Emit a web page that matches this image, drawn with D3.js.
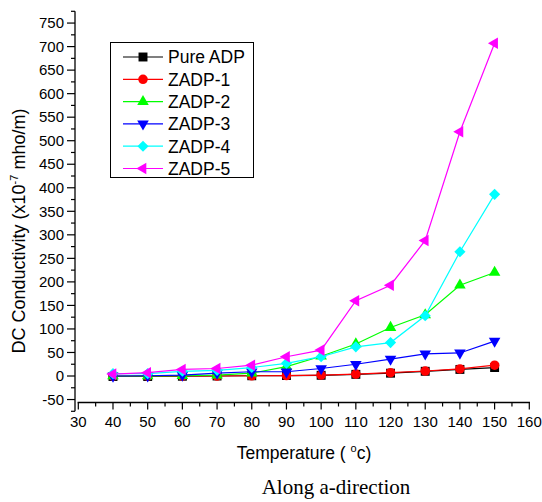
<!DOCTYPE html>
<html>
<head>
<meta charset="utf-8">
<script src="https://cdn.jsdelivr.net/npm/d3@7"></script>
<style>
  body { margin: 0; background: #fff; }
  svg { display: block; }
  text { font-family: Arial, "Liberation Sans", sans-serif; fill: #000; }
</style>
</head>
<body>
<svg id="chart"></svg>
<script>
const temps = [40, 50, 60, 70, 80, 90, 100, 110, 120, 130, 140, 150];

const pureADP = [-1, -1, -0.5, 0, 0.5, 1, 1.5, 3.5, 6, 10, 14, 18];
const zadp1 = [0, 0, 0, 0, 0.5, 1, 2, 4, 7, 10.6, 15, 23];
const zadp2 = [0, 0, 1, 2, 6, 20, 42, 68, 103, 130, 193, 220];
const zadp3 = [0, 0.5, 2, 6, 9, 9, 16, 25, 36, 47, 49, 74];
const zadp4 = [5, 5, 10, 12, 18, 27, 41, 62, 71, 128, 264, 386];
const zadp5 = [4, 7, 14, 16, 23, 41, 55, 160, 193, 288, 519, 707];

const seriesNames = ['Pure ADP', 'ZADP-1', 'ZADP-2', 'ZADP-3', 'ZADP-4', 'ZADP-5'];
const seriesColors = ['#000000', '#ff0000', '#00ff00', '#0000ff', '#00ffff', '#ff00ff'];

const xTicks = d3.range(30, 161, 10);
const yTicks = d3.range(-50, 751, 50);

const width = 542;
const height = 502;

const svg = d3.select('#chart')
  .attr('width', width)
  .attr('height', height);

const x = d3.scaleLinear().domain([30, 160]).range([78.3, 529.3]);
const y = d3.scaleLinear().domain([-75, 775]).range([411.3, 11.3]);

const axisY = 402.5;
const axisX = x(30) - 3.3;

// marker shapes: square, circle, up, down, diamond, left
const markers = [
  { type: d3.symbolSquare, size: 80, rot: 0 },
  { type: d3.symbolCircle, size: 72, rot: 0 },
  { type: d3.symbolTriangle, size: 58, rot: 0 },
  { type: d3.symbolTriangle, size: 58, rot: 180 },
  { type: d3.symbolSquare, size: 62, rot: 45 },
  { type: d3.symbolTriangle, size: 58, rot: -90 }
];

const allSeries = [pureADP, zadp1, zadp2, zadp3, zadp4, zadp5].map((vals, i) => ({
  name: seriesNames[i],
  color: seriesColors[i],
  marker: markers[i],
  values: vals.map((v, j) => ({ t: temps[j], v: v }))
}));

// y axis
const yAxis = svg.append('g');
yAxis.append('line')
  .attr('x1', axisX).attr('x2', axisX)
  .attr('y1', y(-75)).attr('y2', y(775))
  .attr('stroke', '#000').attr('stroke-width', 1.3);
yAxis.selectAll('.ymin')
  .data(d3.range(-75, 776, 25))
  .enter().append('line')
  .attr('x1', d => d % 50 === 0 ? axisX - 8 : axisX - 4)
  .attr('x2', axisX)
  .attr('y1', d => y(d)).attr('y2', d => y(d))
  .attr('stroke', '#000').attr('stroke-width', 1.2);
yAxis.selectAll('.ylab')
  .data(yTicks)
  .enter().append('text')
  .attr('x', axisX - 11)
  .attr('y', d => y(d))
  .attr('dy', '0.35em')
  .attr('text-anchor', 'end')
  .style('font-size', '15px')
  .text(d => d);

// x axis
const xAxis = svg.append('g');
xAxis.append('line')
  .attr('x1', x(30) - 0.7).attr('x2', x(160) + 0.7)
  .attr('y1', axisY).attr('y2', axisY)
  .attr('stroke', '#000').attr('stroke-width', 1.3);
xAxis.selectAll('.xmin')
  .data(d3.range(30, 161, 5))
  .enter().append('line')
  .attr('x1', d => x(d)).attr('x2', d => x(d))
  .attr('y1', axisY)
  .attr('y2', d => d % 10 === 0 ? axisY + 7 : axisY + 4)
  .attr('stroke', '#000').attr('stroke-width', 1.2);
xAxis.selectAll('.xlab')
  .data(xTicks)
  .enter().append('text')
  .attr('x', d => x(d))
  .attr('y', 427)
  .attr('text-anchor', 'middle')
  .style('font-size', '15px')
  .text(d => d);

// axis titles
const xTitle = svg.append('text')
  .attr('x', 304)
  .attr('y', 459)
  .attr('text-anchor', 'middle')
  .style('font-size', '17.5px');
xTitle.append('tspan').text('Temperature ( ');
xTitle.append('tspan').attr('dy', -7).style('font-size', '11px').text('o');
xTitle.append('tspan').attr('dy', 7).text('c)');

const yTitle = svg.append('text')
  .attr('transform', 'translate(25,231) rotate(-90)')
  .attr('text-anchor', 'middle')
  .style('font-size', '18px');
yTitle.append('tspan').text('DC Conductivity (x10');
yTitle.append('tspan').attr('dy', -7).style('font-size', '11px').text('-7');
yTitle.append('tspan').attr('dy', 7).text(' mho/m)');

svg.append('text')
  .attr('x', 336)
  .attr('y', 494)
  .attr('text-anchor', 'middle')
  .style('font-family', '"Liberation Serif", "Times New Roman", serif')
  .style('font-size', '21px')
  .text('Along a-direction');

// series
const line = d3.line()
  .x(d => x(d.t))
  .y(d => y(d.v));

const symbolPath = m => d3.symbol().type(m.type).size(m.size)();

allSeries.forEach(s => {
  const g = svg.append('g');
  g.append('path')
    .datum(s.values)
    .attr('d', line)
    .attr('fill', 'none')
    .attr('stroke', s.color)
    .attr('stroke-width', 1.2);
  g.selectAll('.pt')
    .data(s.values)
    .enter().append('path')
    .attr('d', symbolPath(s.marker))
    .attr('transform', d => `translate(${x(d.t)},${y(d.v)}) rotate(${s.marker.rot})`)
    .attr('fill', s.color);
});

// legend
const legend = svg.append('g');
legend.append('rect')
  .attr('x', 110.5).attr('y', 42.5)
  .attr('width', 143).attr('height', 135)
  .attr('fill', '#fff')
  .attr('stroke', '#000').attr('stroke-width', 1);

allSeries.forEach((s, i) => {
  const ry = 57 + i * 22.3;
  legend.append('line')
    .attr('x1', 123).attr('x2', 163)
    .attr('y1', ry).attr('y2', ry)
    .attr('stroke', s.color).attr('stroke-width', 1.2);
  legend.append('path')
    .attr('d', symbolPath(s.marker))
    .attr('transform', `translate(143,${ry}) rotate(${s.marker.rot})`)
    .attr('fill', s.color);
  legend.append('text')
    .attr('x', 168)
    .attr('y', ry)
    .attr('dy', '0.36em')
    .style('font-size', '17.5px')
    .text(s.name);
});
</script>
</body>
</html>
